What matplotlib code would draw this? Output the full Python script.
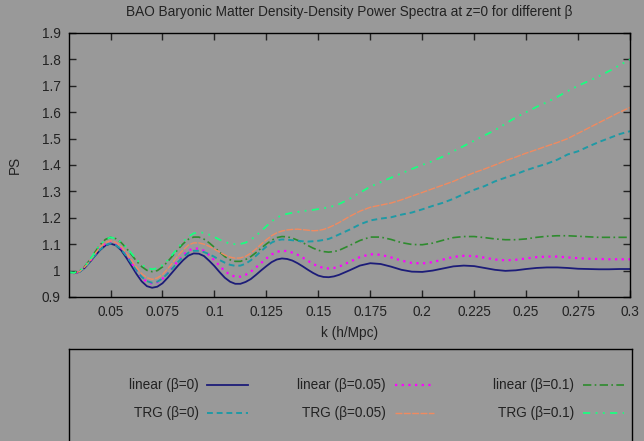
import matplotlib
matplotlib.use("Agg")
import matplotlib.pyplot as plt

plt.rcParams['font.family'] = ['Liberation Sans', 'DejaVu Sans']

# k values (h/Mpc): fine steps through the oscillations, coarser after 0.16
k = [0.030, 0.0325, 0.035, 0.0375, 0.040, 0.0425, 0.045, 0.0475, 0.050, 0.0525,
     0.055, 0.0575, 0.060, 0.0625, 0.065, 0.0675, 0.070, 0.0725, 0.075, 0.0775,
     0.080, 0.0825, 0.085, 0.0875, 0.090, 0.0925, 0.095, 0.0975, 0.100, 0.1025,
     0.105, 0.1075, 0.110, 0.1125, 0.115, 0.1175, 0.120, 0.1225, 0.125, 0.1275,
     0.130, 0.1325, 0.135, 0.1375, 0.140, 0.1425, 0.145, 0.1475, 0.150, 0.1525,
     0.155, 0.1575, 0.160,
     0.165, 0.170, 0.175, 0.180, 0.185, 0.190, 0.195, 0.200, 0.205, 0.210,
     0.215, 0.220, 0.225, 0.230, 0.235, 0.240, 0.245, 0.250, 0.255, 0.260,
     0.265, 0.270, 0.275, 0.280, 0.285, 0.290, 0.295, 0.300]

lin_b0 = [0.992, 0.990, 0.995, 1.010, 1.032, 1.056, 1.078, 1.095, 1.102, 1.096,
          1.078, 1.050, 1.019, 0.987, 0.959, 0.941, 0.935, 0.939, 0.952, 0.973,
          0.996, 1.019, 1.040, 1.057, 1.065, 1.064, 1.055, 1.037, 1.017, 0.994,
          0.973, 0.958, 0.950, 0.950, 0.957, 0.968, 0.984, 1.001, 1.017, 1.032,
          1.042, 1.046, 1.044, 1.038, 1.028, 1.016, 1.003, 0.991, 0.981, 0.976,
          0.975, 0.978, 0.984,
          1.001, 1.019, 1.028, 1.025, 1.015, 1.003, 0.996, 0.995, 1.000, 1.008,
          1.016, 1.019, 1.017, 1.010, 1.003, 0.999, 1.001, 1.006, 1.010, 1.012,
          1.012, 1.010, 1.007, 1.006, 1.005, 1.005, 1.006, 1.006]

lin_b005 = [0.993, 0.991, 0.996, 1.012, 1.035, 1.061, 1.085, 1.103, 1.110, 1.104,
            1.087, 1.061, 1.031, 1.000, 0.974, 0.957, 0.951, 0.956, 0.969, 0.990,
            1.013, 1.037, 1.059, 1.076, 1.084, 1.083, 1.075, 1.058, 1.039, 1.018,
            0.998, 0.984, 0.977, 0.977, 0.984, 0.996, 1.012, 1.029, 1.046, 1.061,
            1.071, 1.075, 1.074, 1.068, 1.060, 1.049, 1.037, 1.025, 1.016, 1.010,
            1.008, 1.010, 1.015,
            1.033, 1.051, 1.062, 1.060, 1.050, 1.038, 1.029, 1.027, 1.032, 1.042,
            1.052, 1.056, 1.055, 1.049, 1.042, 1.039, 1.041, 1.046, 1.051, 1.053,
            1.053, 1.050, 1.047, 1.045, 1.044, 1.043, 1.043, 1.043]

lin_b01 = [0.993, 0.992, 0.998, 1.015, 1.040, 1.070, 1.098, 1.118, 1.126, 1.121,
           1.107, 1.086, 1.061, 1.036, 1.015, 1.001, 0.996, 1.000, 1.014, 1.034,
           1.057, 1.081, 1.102, 1.119, 1.127, 1.127, 1.119, 1.105, 1.088, 1.070,
           1.053, 1.041, 1.035, 1.035, 1.042, 1.053, 1.068, 1.085, 1.101, 1.115,
           1.125, 1.129, 1.128, 1.123, 1.115, 1.106, 1.095, 1.085, 1.077, 1.072,
           1.070, 1.072, 1.077,
           1.095, 1.114, 1.127, 1.127, 1.118, 1.106, 1.099, 1.098, 1.104, 1.115,
           1.125, 1.129, 1.129, 1.125, 1.120, 1.117, 1.117, 1.120, 1.126, 1.130,
           1.132, 1.132, 1.130, 1.128, 1.126, 1.126, 1.126, 1.126]

trg_b0 = [0.993, 0.991, 0.995, 1.011, 1.033, 1.058, 1.080, 1.096, 1.103, 1.097,
          1.081, 1.057, 1.029, 1.000, 0.976, 0.960, 0.954, 0.958, 0.970, 0.989,
          1.010, 1.033, 1.052, 1.068, 1.075, 1.075, 1.070, 1.062, 1.052, 1.040,
          1.030, 1.022, 1.018, 1.019, 1.026, 1.039, 1.056, 1.074, 1.091, 1.106,
          1.115, 1.118, 1.117, 1.115, 1.113, 1.111, 1.110, 1.111, 1.113, 1.116,
          1.120, 1.128, 1.137,
          1.155, 1.175, 1.190, 1.197, 1.202, 1.212, 1.220, 1.232, 1.245, 1.257,
          1.272, 1.290, 1.306, 1.320, 1.338, 1.352, 1.365, 1.380, 1.393, 1.405,
          1.420, 1.440, 1.452, 1.470, 1.487, 1.502, 1.517, 1.528]

trg_b005 = [0.993, 0.991, 0.996, 1.013, 1.036, 1.064, 1.089, 1.106, 1.113, 1.107,
            1.092, 1.068, 1.040, 1.012, 0.988, 0.973, 0.967, 0.972, 0.985, 1.007,
            1.031, 1.057, 1.079, 1.097, 1.105, 1.105, 1.100, 1.092, 1.081, 1.070,
            1.059, 1.051, 1.047, 1.048, 1.054, 1.066, 1.082, 1.100, 1.117, 1.132,
            1.143, 1.150, 1.154, 1.156, 1.157, 1.155, 1.153, 1.151, 1.152, 1.156,
            1.163, 1.172, 1.182,
            1.205, 1.225, 1.240, 1.248, 1.256, 1.268, 1.282, 1.296, 1.310, 1.324,
            1.338, 1.355, 1.371, 1.385, 1.400, 1.416, 1.430, 1.445, 1.458, 1.472,
            1.485, 1.500, 1.520, 1.540, 1.560, 1.580, 1.600, 1.618]

trg_b01 = [0.993, 0.992, 0.998, 1.015, 1.040, 1.070, 1.098, 1.118, 1.126, 1.121,
           1.108, 1.089, 1.066, 1.042, 1.023, 1.010, 1.005, 1.009, 1.021, 1.040,
           1.063, 1.087, 1.110, 1.129, 1.141, 1.145, 1.143, 1.136, 1.127, 1.117,
           1.109, 1.102, 1.100, 1.101, 1.106, 1.117, 1.132, 1.150, 1.168, 1.186,
           1.200, 1.210, 1.215, 1.219, 1.222, 1.225, 1.228, 1.230, 1.233, 1.236,
           1.240, 1.245, 1.252,
           1.272, 1.295, 1.318, 1.335, 1.352, 1.368, 1.385, 1.400, 1.415, 1.432,
           1.452, 1.472, 1.492, 1.512, 1.532, 1.556, 1.580, 1.600, 1.620, 1.638,
           1.658, 1.680, 1.700, 1.718, 1.736, 1.756, 1.778, 1.800]

xticks = [0.05, 0.075, 0.1, 0.125, 0.15, 0.175, 0.2, 0.225, 0.25, 0.275, 0.3]
xtick_labels = ['0.05', '0.075', '0.1', '0.125', '0.15', '0.175', '0.2',
                '0.225', '0.25', '0.275', '0.3']
yticks = [0.9, 1.0, 1.1, 1.2, 1.3, 1.4, 1.5, 1.6, 1.7, 1.8, 1.9]
ytick_labels = ['0.9', '1', '1.1', '1.2', '1.3', '1.4', '1.5', '1.6', '1.7', '1.8', '1.9']

series = [
    ('linear (β=0)', lin_b0, dict(color='#1c1c78', ls='-', lw=1.3)),
    ('linear (β=0.05)', lin_b005, dict(color='#ff00ff', ls=(0, (1, 2)), lw=1.6)),
    ('linear (β=0.1)', lin_b01, dict(color='#2e8b2e', ls=(0, (5, 2, 1, 2)), lw=1.2)),
    ('TRG (β=0)', trg_b0, dict(color='#1f9aa5', ls=(0, (3, 2)), lw=1.4)),
    ('TRG (β=0.05)', trg_b005, dict(color='#f08a60', ls=(0, (5, 1)), lw=1.0)),
    ('TRG (β=0.1)', trg_b01, dict(color='#1aff80', ls=(0, (4, 3, 1, 3, 1, 3)), lw=1.3)),
]

fs = 9.8
txt = '#222222'
bg = '#999999'
W, H = 644, 441
fig = plt.figure(figsize=(W / 100, H / 100), dpi=100, facecolor=bg)

# main plot area in pixels: left 69, right 630, top 33, bottom 297
ax = fig.add_axes([69 / W, 1 - 297 / H, (630 - 69) / W, (297 - 33) / H], facecolor=bg)
for name, vals, st in series:
    ax.plot(k, vals, label=name, solid_joinstyle='round', **st)

ax.set_xlim(0.03, 0.3)
ax.set_ylim(0.9, 1.9)
ax.set_xticks(xticks)
ax.set_xticklabels(xtick_labels)
ax.set_yticks(yticks)
ax.set_yticklabels(ytick_labels)
ax.tick_params(direction='in', top=True, right=True, length=5, width=1,
               labelsize=fs, colors=txt, pad=6)
for s in ax.spines.values():
    s.set_color('black')
    s.set_linewidth(1)
ax.set_xlabel('k (h/Mpc)', fontsize=fs, color=txt, labelpad=5)
ax.set_ylabel('PS', fontsize=fs, color=txt, labelpad=14)
ax.set_title('BAO Baryonic Matter Density-Density Power Spectra at z=0 for different β',
             fontsize=fs, color=txt, pad=12)

# key box under the plot, laid out like gnuplot's
lax = fig.add_axes([69 / W, 0, (632 - 69) / W, (H - 349) / H], facecolor=bg)
lax.set_xlim(69, 632)
lax.set_ylim(H, 349)
lax.set_xticks([])
lax.set_yticks([])
for sp in ['left', 'right', 'top']:
    lax.spines[sp].set_color('black')
    lax.spines[sp].set_linewidth(1)
lax.spines['bottom'].set_visible(False)

col_text_x = [199, 386, 574]
col_line_x = [(207, 248), (395, 434), (583, 624)]
row_y = [385, 413]
for i, (name, vals, st) in enumerate(series):
    r = i // 3
    c = i % 3
    lax.text(col_text_x[c], row_y[r], name, ha='right', va='center',
             fontsize=fs, color=txt)
    lax.plot(col_line_x[c], [row_y[r], row_y[r]], **st)

fig.savefig('out.png', dpi=100, facecolor=bg)
